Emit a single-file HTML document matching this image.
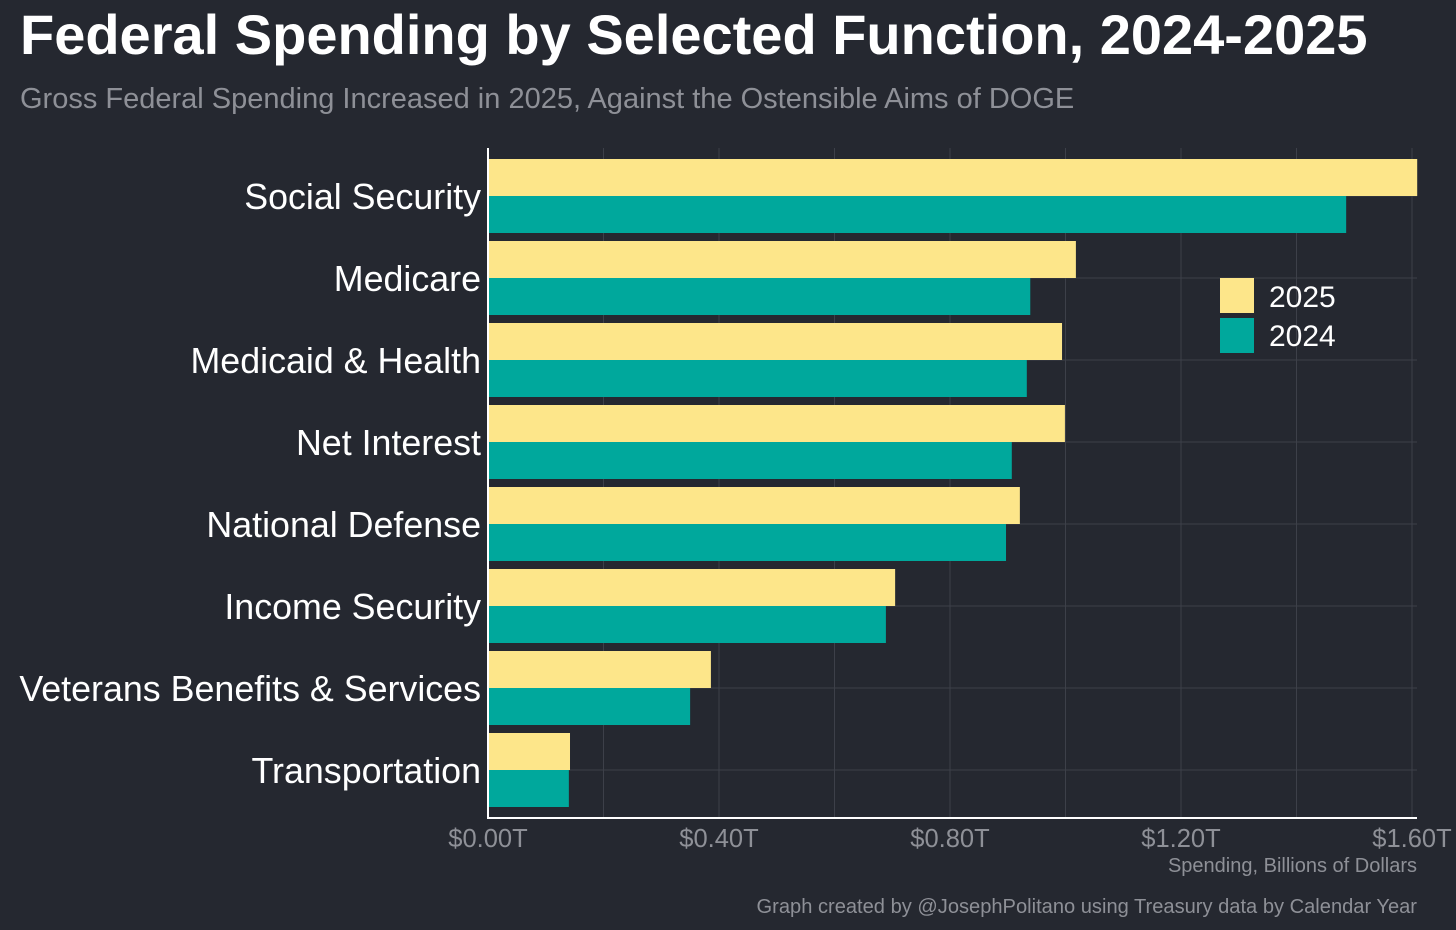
<!DOCTYPE html>
<html><head><meta charset="utf-8"><style>
html,body{margin:0;padding:0;background:#252830;}
svg{display:block;font-family:"Liberation Sans",Arial,sans-serif;}
</style></head><body>
<svg id="chart" width="1456" height="930" viewBox="0 0 1456 930">
<rect width="1456" height="930" fill="#252830"/>
<text x="20" y="54" font-size="56" font-weight="bold" fill="#ffffff">Federal Spending by Selected Function, 2024-2025</text>
<text x="20" y="108" font-size="29" fill="#8e9097">Gross Federal Spending Increased in 2025, Against the Ostensible Aims of DOGE</text>
<g id="grid"></g>
<g id="bars"></g>
<g id="labels"></g>
<g id="ticks"></g>
<line x1="488" y1="148" x2="488" y2="819" stroke="#ffffff" stroke-width="2"/>
<line x1="487" y1="818" x2="1417" y2="818" stroke="#ffffff" stroke-width="2"/>
<text x="1417" y="872" font-size="20" fill="#8e9097" text-anchor="end">Spending, Billions of Dollars</text>
<text x="1417" y="913" font-size="20.1" fill="#8e9097" text-anchor="end">Graph created by @JosephPolitano using Treasury data by Calendar Year</text>
<g>
<rect x="1220" y="278" width="34" height="35" fill="#fde68a"/>
<text x="1269" y="307" font-size="30" fill="#ffffff">2025</text>
<rect x="1220" y="318" width="34" height="35" fill="#00a89c"/>
<text x="1269" y="346" font-size="30" fill="#ffffff">2024</text>
</g>
</svg>
<script>
const categories = ["Social Security","Medicare","Medicaid & Health","Net Interest","National Defense","Income Security","Veterans Benefits & Services","Transportation"];
const values2025 = [1.609,1.018,0.994,0.999,0.921,0.705,0.386,0.142];
const values2024 = [1.486,0.939,0.933,0.907,0.897,0.689,0.350,0.140];
const tickValues = [0,0.4,0.8,1.2,1.6];
const tickLabels = ["$0.00T","$0.40T","$0.80T","$1.20T","$1.60T"];
const gridValues = [0.2,0.4,0.6,0.8,1.0,1.2,1.4,1.6];

const NS="http://www.w3.org/2000/svg";
const x0=488, pxPerT=577.5, plotTop=159, band=82, barH=37;
const xs=v=>x0+v*pxPerT;
const yc=i=>plotTop+band*i+band/2-4;
function mk(tag,attrs,parent){const e=document.createElementNS(NS,tag);for(const k in attrs)e.setAttribute(k,attrs[k]);parent.appendChild(e);return e;}
const grid=document.getElementById('grid'),bars=document.getElementById('bars'),labels=document.getElementById('labels'),ticks=document.getElementById('ticks');
gridValues.forEach(v=>{
  const l=mk('line',{x1:xs(v),x2:xs(v),y1:148,y2:818,stroke:'#3d4049','stroke-width':1},grid);
  
  
});
categories.forEach((c,i)=>{
  const y=yc(i);
  const g=mk('line',{x1:488,x2:1417,y1:y,y2:y,stroke:'#3d4049','stroke-width':1},grid);
  
  
  const b1=mk('rect',{x:x0,y:y-barH,width:xs(values2025[i])-x0,height:barH,fill:'#fde68a'},bars);
  
  
  const b2=mk('rect',{x:x0,y:y,width:xs(values2024[i])-x0,height:barH,fill:'#00a89c'},bars);
  
  
  const t=mk('text',{x:481,y:y+13,'font-size':35.8,fill:'#ffffff','text-anchor':'end'},labels);
  t.textContent=c;
  
  
});
tickValues.forEach((v,i)=>{
  const t=mk('text',{x:xs(v),y:847,'font-size':25.5,fill:'#8e9097','text-anchor':'middle'},ticks);
  t.textContent=tickLabels[i];
  
  
});
</script>
</body></html>
